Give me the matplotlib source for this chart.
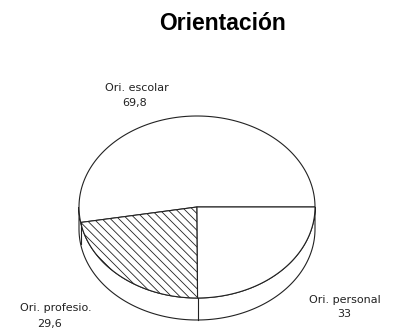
import numpy as np
import matplotlib.pyplot as plt
from matplotlib.patches import Polygon

plt.rcParams['font.family'] = ['Liberation Sans', 'DejaVu Sans']
plt.rcParams['hatch.linewidth'] = 0.6

labels = ["Ori. escolar", "Ori. profesio.", "Ori. personal"]
values = [69.8, 29.6, 33]
value_text = ["69,8", "29,6", "33"]
hatches = [None, '\\\\\\\\', None]

# pie geometry (pixels, y down)
cx, cy = 197, 207
rx, ry = 118, 91
depth = 22

fig = plt.figure(figsize=(3.95, 3.29), dpi=100)
ax = fig.add_axes([0, 0, 1, 1])
ax.set_xlim(0, 395)
ax.set_ylim(329, 0)
ax.axis('off')

def pt(theta, dy=0):
    t = np.radians(theta)
    return cx + rx * np.cos(t), cy - ry * np.sin(t) + dy

ink = '#222222'
edge = dict(edgecolor=ink, linewidth=0.8)

# side of the cake (lower half only)
th = np.linspace(180, 360, 200)
top = np.array([pt(t) for t in th])
bot = np.array([pt(t, depth) for t in th[::-1]])
ax.add_patch(Polygon(np.vstack([top, bot]), closed=True, facecolor='white', **edge))

angles = np.concatenate([[0], np.cumsum(values) / sum(values) * 360])
for a in angles:
    a = a % 360
    if 180 < a < 360:
        x0, y0 = pt(a)
        ax.plot([x0, x0], [y0, y0 + depth], color=ink, lw=0.8)

# top face wedges
for i in range(len(values)):
    th = np.linspace(angles[i], angles[i + 1], 120)
    arc = np.array([pt(t) for t in th])
    poly = np.vstack([[cx, cy], arc])
    ax.add_patch(Polygon(poly, closed=True, facecolor='white',
                         hatch=hatches[i], **edge))

# labels
lab_pos = [(137, 88, 135, 103), (56, 308, 50, 324), (345, 300, 344, 314)]
for i, (lx, ly, vx, vy) in enumerate(lab_pos):
    ax.text(lx, ly, labels[i], ha='center', va='center', fontsize=8,
            family='DejaVu Sans', color=ink)
    ax.text(vx, vy, value_text[i], ha='center', va='center', fontsize=8,
            family='DejaVu Sans', color=ink)

ax.text(222, 30, "Orientación", ha='center', va='baseline', fontsize=16.5,
        fontweight='bold')

fig.savefig("out.png", dpi=100)
